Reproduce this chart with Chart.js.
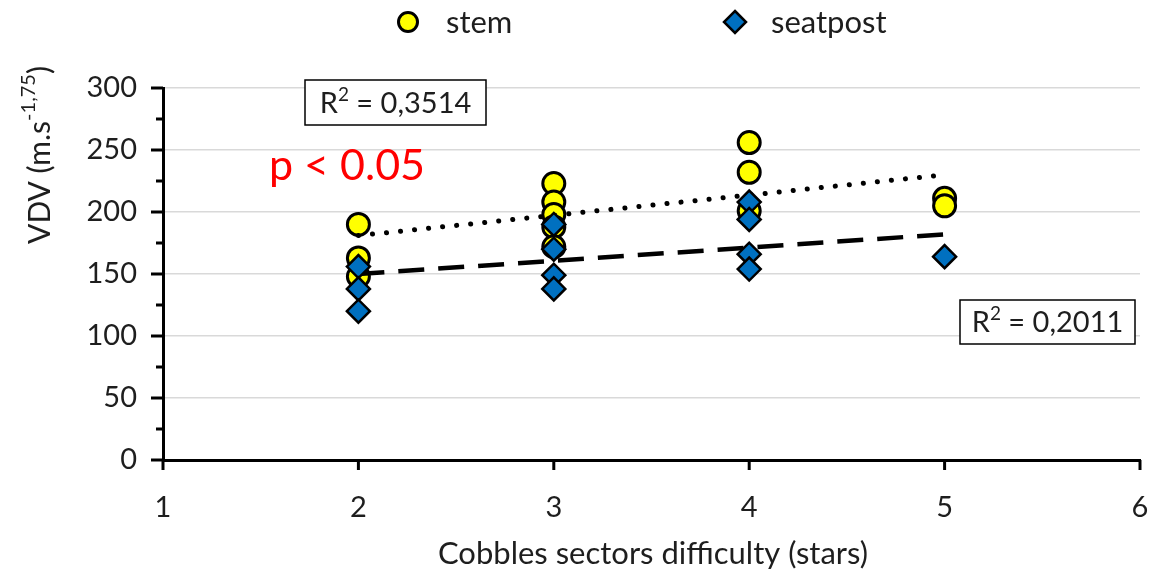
<!DOCTYPE html>
<html>
<head>
<meta charset="utf-8">
<script src="https://cdn.jsdelivr.net/npm/chart.js@4/dist/chart.umd.min.js"></script>
<style>
  html, body { margin: 0; padding: 0; background: #fff; }
  #wrap { width: 1160px; height: 577px; }
</style>
</head>
<body>
<div id="wrap"><canvas id="vdv"></canvas></div>
<script>
// VDV per cobbles sector difficulty, stem vs seatpost sensor
const stemStars = [2, 2, 2, 3, 3, 3, 3, 3, 4, 4, 4, 5, 5];
const stemVdv   = [190, 163, 148, 223, 208, 198, 188, 172, 256, 232, 201, 211, 205];
const seatStars = [2, 2, 2, 3, 3, 3, 3, 4, 4, 4, 4, 5];
const seatVdv   = [156, 138, 120, 190, 170, 149, 138, 208, 194, 166, 154, 164];

// linear trend end points (stars -> VDV)
const trendStars = [2, 5];
const stemTrend  = [181, 230];
const seatTrend  = [150, 182];

const xTicks = [1, 2, 3, 4, 5, 6];
const yTicks = [0, 50, 100, 150, 200, 250, 300];

const FONT = 'Lato, "Open Sans", sans-serif';
const TXT = '#1e1e1e';

function toPoints(xs, ys) {
  return xs.map((x, i) => ({x: x, y: ys[i]}));
}

const extras = {
  id: 'extras',
  afterDraw(chart) {
    const c = chart.ctx;
    const xs = chart.scales.x, ys = chart.scales.y;
    c.save();
    c.strokeStyle = '#000';
    c.lineWidth = 3;
    // y tick marks, major and minor
    for (let v = 0; v <= 300; v += 25) {
      const py = ys.getPixelForValue(v);
      const len = v % 50 === 0 ? 12 : 7;
      c.beginPath(); c.moveTo(xs.left - len, py); c.lineTo(xs.left, py); c.stroke();
    }
    // x tick marks
    xTicks.forEach(v => {
      const px = xs.getPixelForValue(v);
      c.beginPath(); c.moveTo(px, ys.bottom); c.lineTo(px, ys.bottom + 10); c.stroke();
    });

    // legend
    c.lineWidth = 3;
    c.fillStyle = '#ffff00';
    c.beginPath(); c.arc(408, 22, 9.5, 0, Math.PI * 2); c.fill(); c.stroke();
    c.fillStyle = '#0070c0';
    c.lineWidth = 2.5;
    c.beginPath();
    c.moveTo(735, 11); c.lineTo(746, 22); c.lineTo(735, 33); c.lineTo(724, 22); c.closePath();
    c.fill(); c.stroke();
    c.fillStyle = TXT;
    c.font = '31px ' + FONT;
    c.textBaseline = 'middle';
    c.textAlign = 'left';
    c.fillText('stem', 446, 23);
    c.fillText('seatpost', 771, 23);

    // axis titles
    c.textAlign = 'center';
    c.fillText('Cobbles sectors difficulty (stars)', 653, 554);

    c.save();
    c.translate(40, 155);
    c.rotate(-Math.PI / 2);
    c.textAlign = 'left';
    const base = 'VDV (m.s';
    const sup = '-1,75';
    c.font = '30px ' + FONT;
    const w1 = c.measureText(base).width;
    c.font = '20px ' + FONT;
    const w2 = c.measureText(sup).width;
    c.font = '30px ' + FONT;
    const w3 = c.measureText(')').width;
    let sx = -(w1 + w2 + w3) / 2;
    c.fillText(base, sx, 0);
    c.font = '20px ' + FONT;
    c.fillText(sup, sx + w1, -11);
    c.font = '30px ' + FONT;
    c.fillText(')', sx + w1 + w2, 0);
    c.restore();

    // R² boxes
    function rBox(x, y, w, h, val) {
      c.fillStyle = '#fff';
      c.fillRect(x, y, w, h);
      c.strokeStyle = '#000';
      c.lineWidth = 1.5;
      c.strokeRect(x, y, w, h);
      c.fillStyle = TXT;
      c.textAlign = 'left';
      c.font = '29px ' + FONT;
      const a = 'R', s = '2', b = ' = ' + val;
      const wa = c.measureText(a).width;
      c.font = '19px ' + FONT;
      const ws = c.measureText(s).width;
      c.font = '29px ' + FONT;
      const wb = c.measureText(b).width;
      let tx = x + (w - wa - ws - wb) / 2;
      const ty = y + h / 2 + 1;
      c.fillText(a, tx, ty);
      c.font = '19px ' + FONT;
      c.fillText(s, tx + wa, ty - 9);
      c.font = '29px ' + FONT;
      c.fillText(b, tx + wa + ws, ty);
    }
    rBox(305, 80, 181, 45, '0,3514');
    rBox(960, 300, 175, 44, '0,2011');

    c.fillStyle = '#ff0000';
    c.font = '43px ' + FONT;
    c.textAlign = 'left';
    c.fillText('p < 0.05', 269, 166);
    c.restore();
  }
};

new Chart(document.getElementById('vdv'), {
  type: 'scatter',
  data: {
    datasets: [
      {
        label: 'stem',
        data: toPoints(stemStars, stemVdv),
        pointStyle: 'circle',
        pointRadius: 11,
        pointBackgroundColor: '#ffff00',
        pointBorderColor: '#000',
        pointBorderWidth: 3,
        order: 5
      },
      {
        label: 'stem trend',
        type: 'line',
        data: toPoints(trendStars, stemTrend),
        showLine: true,
        pointRadius: 0,
        borderColor: '#000',
        borderWidth: 5,
        borderDash: [0.1, 14],
        borderCapStyle: 'round',
        order: 4
      },
      {
        label: 'seatpost trend',
        type: 'line',
        data: toPoints(trendStars, seatTrend),
        showLine: true,
        pointRadius: 0,
        borderColor: '#000',
        borderWidth: 4.5,
        borderDash: [26, 14],
        order: 3
      },
      {
        label: 'seatpost',
        data: toPoints(seatStars, seatVdv),
        pointStyle: 'rectRot',
        pointRadius: 11.5,
        pointBackgroundColor: '#0070c0',
        pointBorderColor: '#000',
        pointBorderWidth: 2.5,
        order: 1
      }
    ]
  },
  options: {
    responsive: true,
    maintainAspectRatio: false,
    animation: false,
    events: [],
    layout: { padding: { top: 88, right: 20, left: 0, bottom: 0 } },
    plugins: { legend: { display: false }, tooltip: { enabled: false } },
    scales: {
      x: {
        type: 'linear',
        min: 1, max: 6,
        afterBuildTicks: s => { s.ticks = xTicks.map(v => ({value: v})); },
        afterFit: s => { s.height = 117; s.paddingLeft = 0; s.paddingRight = 0; },
        grid: { color: 'transparent', drawTicks: false },
        border: { color: '#000', width: 3 },
        ticks: { padding: 30, color: TXT, font: { family: FONT, size: 29 } }
      },
      y: {
        min: 0, max: 300,
        afterBuildTicks: s => { s.ticks = yTicks.map(v => ({value: v})); },
        afterFit: s => { s.width = 163; s.paddingTop = 0; s.paddingBottom = 0; },
        grid: { color: '#d9d9d9', lineWidth: 1.5, drawTicks: false },
        border: { color: '#000', width: 3 },
        ticks: { padding: 26, color: TXT, font: { family: FONT, size: 29 } }
      }
    }
  },
  plugins: [extras]
});
</script>
</body>
</html>
